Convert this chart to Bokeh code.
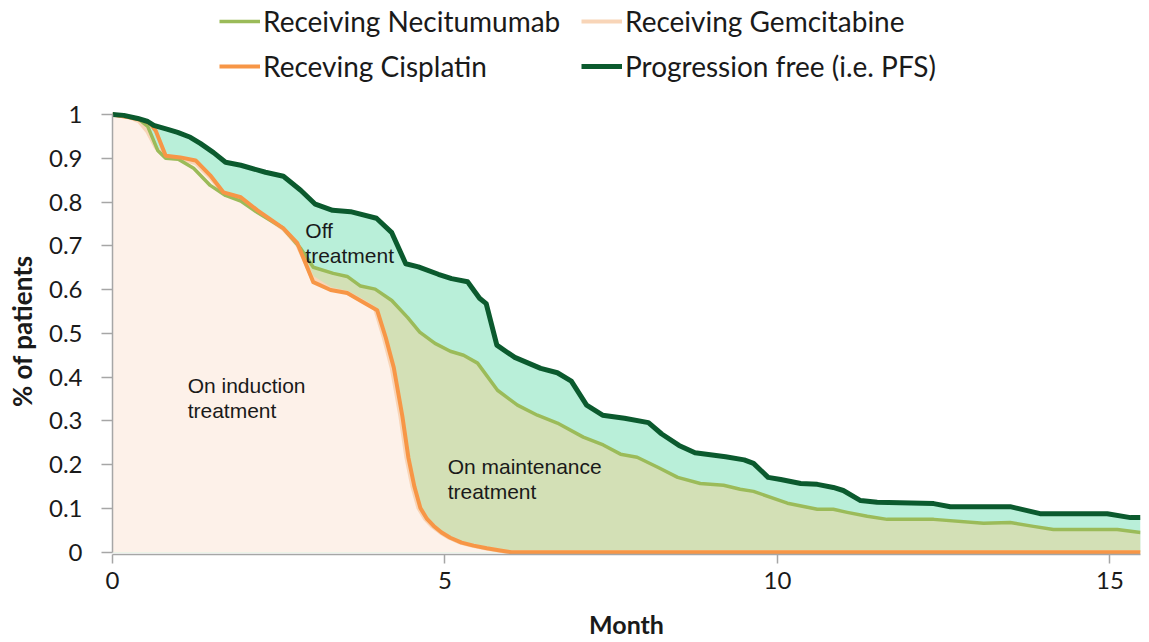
from bokeh.plotting import figure
from bokeh.models import Range1d, FixedTicker, Legend, LegendItem
from bokeh.core.properties import value
from bokeh.embed import file_html
from bokeh.resources import INLINE

# Progression free (PFS)
months_pfs = [0, 0.17, 0.38, 0.53, 0.62, 0.83, 0.98, 1.17, 1.32, 1.52, 1.70, 1.93, 2.30, 2.57,
              2.83, 3.05, 3.31, 3.58, 3.97, 4.20, 4.41, 4.60, 4.90, 5.10, 5.34, 5.52, 5.62, 5.78,
              6.05, 6.44, 6.69, 6.90, 7.13, 7.37, 7.70, 8.06, 8.26, 8.52, 8.76, 9.22, 9.50, 9.64,
              9.86, 10.05, 10.35, 10.60, 10.84, 10.99, 11.25, 11.50, 12.35, 12.60, 13.50, 13.95,
              14.96, 15.31, 15.46]
pfs = [1.0, 0.998, 0.991, 0.984, 0.975, 0.966, 0.959, 0.948, 0.934, 0.913, 0.891, 0.884, 0.868,
       0.859, 0.827, 0.795, 0.781, 0.778, 0.763, 0.730, 0.659, 0.652, 0.635, 0.625, 0.618, 0.580,
       0.568, 0.473, 0.445, 0.420, 0.410, 0.391, 0.336, 0.313, 0.306, 0.296, 0.270, 0.244, 0.227,
       0.218, 0.211, 0.203, 0.171, 0.166, 0.157, 0.155, 0.148, 0.141, 0.118, 0.114, 0.111, 0.104,
       0.104, 0.088, 0.088, 0.079, 0.079]

# Receiving Necitumumab
months_neci = [0, 0.38, 0.53, 0.68, 0.80, 0.99, 1.22, 1.47, 1.70, 1.93, 2.18, 2.57, 2.83, 3.02,
               3.32, 3.53, 3.73, 3.95, 4.20, 4.44, 4.62, 4.85, 5.08, 5.28, 5.49, 5.79, 6.09, 6.39,
               6.69, 7.08, 7.38, 7.64, 7.89, 8.20, 8.50, 8.84, 9.19, 9.44, 9.64, 10.15, 10.60,
               10.84, 11.05, 11.35, 11.65, 12.35, 13.10, 13.50, 13.85, 14.15, 15.11, 15.46]
neci = [1.0, 0.991, 0.973, 0.918, 0.900, 0.898, 0.877, 0.838, 0.815, 0.802, 0.776, 0.740, 0.694,
        0.651, 0.637, 0.630, 0.608, 0.601, 0.575, 0.536, 0.503, 0.477, 0.459, 0.450, 0.432, 0.370,
        0.336, 0.313, 0.295, 0.263, 0.245, 0.224, 0.217, 0.194, 0.171, 0.157, 0.153, 0.144, 0.139,
        0.112, 0.098, 0.098, 0.091, 0.082, 0.075, 0.075, 0.066, 0.068, 0.059, 0.052, 0.052, 0.045]

# Receiving Cisplatin
months_cis = [0, 0.27, 0.47, 0.57, 0.65, 0.80, 1.02, 1.25, 1.47, 1.67, 1.93, 2.18, 2.57, 2.78,
              3.02, 3.28, 3.53, 3.77, 3.98, 4.11, 4.23, 4.36, 4.45, 4.54, 4.63, 4.73, 4.83, 4.95,
              5.08, 5.25, 5.43, 5.63, 5.83, 6.00, 15.46]
cis = [1.0, 0.993, 0.986, 0.979, 0.963, 0.906, 0.902, 0.895, 0.861, 0.822, 0.811, 0.781, 0.740,
       0.706, 0.617, 0.599, 0.592, 0.571, 0.553, 0.490, 0.422, 0.310, 0.216, 0.150, 0.101, 0.076,
       0.060, 0.045, 0.033, 0.022, 0.015, 0.009, 0.004, 0.0, 0.0]

# Receiving Gemcitabine
months_gem = [0, 0.27, 0.40, 0.52, 0.65, 0.80, 1.02, 1.25, 1.47, 1.67, 1.93, 2.18, 2.57, 2.78,
              3.00, 3.28, 3.53, 3.77, 3.95, 4.08, 4.20, 4.33, 4.42, 4.51, 4.60, 4.70, 4.80, 4.93,
              5.06, 5.23, 5.40, 5.60, 5.80, 5.97, 15.46]
gem = [1.0, 0.993, 0.984, 0.962, 0.925, 0.902, 0.899, 0.889, 0.856, 0.820, 0.808, 0.779, 0.738,
       0.702, 0.628, 0.601, 0.593, 0.573, 0.556, 0.490, 0.420, 0.310, 0.216, 0.150, 0.101, 0.076,
       0.060, 0.045, 0.033, 0.022, 0.015, 0.009, 0.004, 0.0, 0.0]

x_ticks = [0, 5, 10, 15]
y_ticks = [0, 0.1, 0.2, 0.3, 0.4, 0.5, 0.6, 0.7, 0.8, 0.9, 1]
y_tick_labels = ["0", "0.1", "0.2", "0.3", "0.4", "0.5", "0.6", "0.7", "0.8", "0.9", "1"]

note_text = ["On induction\ntreatment", "Off\ntreatment", "On maintenance\ntreatment"]
note_x = [1.13, 2.90, 5.04]
note_y = [0.408, 0.762, 0.223]

PFS_LINE = "#0b5a2e"
NECI_LINE = "#9bbb59"
CIS_LINE = "#f79646"
GEM_LINE = "#f8d5b8"
MINT_FILL = "#b9efd9"
OLIVE_FILL = "#d3e0b6"
PEACH_FILL = "#fdf1e9"
AXIS_GRAY = "#a6a6a6"
TEXT = "#1a1a1a"

# The plot area reaches the top edge so that the legend can sit inside it,
# above the 0..1 band that the y axis covers.
p = figure(width=1149, height=642, output_backend="svg", toolbar_location=None,
           x_range=Range1d(0, 15.46), y_range=Range1d(-0.00525, 1.26045),
           min_border_left=112, min_border_right=9, min_border_top=0, min_border_bottom=88)
p.outline_line_color = None
p.grid.visible = False

# bands: PFS (off treatment), Necitumumab (maintenance), Gemcitabine (induction)
p.varea(x=months_pfs, y1=0, y2=pfs, fill_color=MINT_FILL)
p.varea(x=months_neci, y1=0, y2=neci, fill_color=OLIVE_FILL)
p.varea(x=months_gem, y1=0, y2=gem, fill_color=PEACH_FILL)

r_gem = p.line(months_gem, gem, line_color=GEM_LINE, line_width=4, line_join="round")
r_neci = p.line(months_neci, neci, line_color=NECI_LINE, line_width=3.5, line_join="round")
r_cis = p.line(months_cis, cis, line_color=CIS_LINE, line_width=4, line_join="round")
r_pfs = p.line(months_pfs, pfs, line_color=PFS_LINE, line_width=5, line_join="round")

p.text(x=note_x, y=note_y, text=note_text, text_font=value("Liberation Sans"),
       text_font_size="21px", text_color=TEXT, text_align="left", text_baseline="top",
       text_line_height=1.1)

for ax in (p.xaxis[0], p.yaxis[0]):
    ax.axis_line_color = AXIS_GRAY
    ax.axis_line_width = 1.5
    ax.major_tick_line_color = AXIS_GRAY
    ax.major_tick_line_width = 1.5
    ax.major_tick_in = 0
    ax.minor_tick_line_color = None
    ax.major_label_text_font = "Lato"
    ax.major_label_text_font_size = "24px"
    ax.major_label_text_color = TEXT
    ax.axis_label_text_font = "Lato"
    ax.axis_label_text_font_style = "bold"
    ax.axis_label_text_color = TEXT

p.xaxis.ticker = FixedTicker(ticks=x_ticks)
p.xaxis.major_tick_out = 9
p.xaxis.major_label_standoff = 8
p.xaxis.axis_label = "Month"
p.xaxis.axis_label_text_font_size = "25px"
p.xaxis.axis_label_standoff = 17

# the axis label is centred on the whole plot height, so trailing no-break
# spaces move the visible words down to the middle of the 0..1 band
p.yaxis.ticker = FixedTicker(ticks=y_ticks)
p.yaxis.major_label_overrides = dict(zip(y_ticks, y_tick_labels))
p.yaxis.bounds = (0, 1)
p.yaxis.major_tick_out = 11
p.yaxis.major_label_standoff = 19
p.yaxis.axis_label = "% of patients" + "\u00a0" * 17
p.yaxis.axis_label_text_font_size = "26px"
p.yaxis.axis_label_standoff = 8

legend = Legend(
    items=[
        LegendItem(label="Receiving Necitumumab", renderers=[r_neci]),
        LegendItem(label="Receiving Gemcitabine", renderers=[r_gem]),
        LegendItem(label="Receving Cisplatin", renderers=[r_cis]),
        LegendItem(label="Progression free (i.e. PFS)", renderers=[r_pfs]),
    ],
    orientation="horizontal", ncols=2,
    location=(107, 470), margin=0, padding=4, spacing=9,
    glyph_width=41, glyph_height=36, label_height=36, label_width=309, label_standoff=3,
    label_text_font="Lato", label_text_font_size="28px", label_text_color=TEXT,
    background_fill_alpha=0, border_line_color=None,
)
p.add_layout(legend, "center")

open("out.html", "w").write(file_html(p, INLINE))
